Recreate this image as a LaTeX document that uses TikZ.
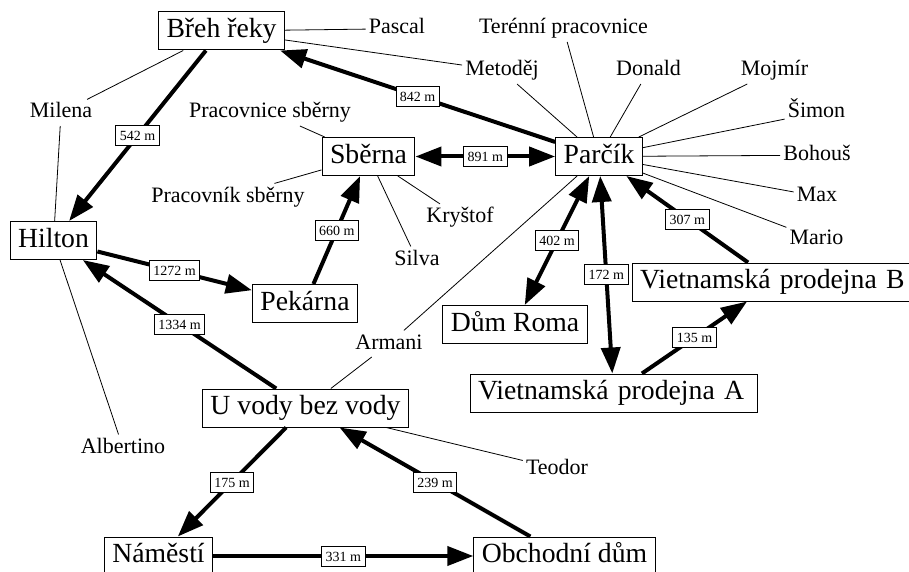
\documentclass[tikz,border=0pt]{standalone}
\usepackage{fontspec}
\setmainfont{Liberation Serif}
\usetikzlibrary{arrows.meta}

\begin{document}
\begin{tikzpicture}[x=1pt, y=-1pt, >={Triangle[length=26pt,width=19pt]},
		place/.style={draw, line width=1pt, inner xsep=8pt, inner ysep=6pt, text height=19.9pt, text depth=6.1pt, font=\fontsize{27.7}{30}\selectfont},
		person/.style={inner sep=3pt, text height=15.4pt, text depth=4.8pt, anchor=base, font=\fontsize{22}{26}\selectfont},
		road/.style={line width=4pt},
		knows/.style={line width=0.8pt},
		dist/.style={draw, fill=white, line width=0.8pt, inner xsep=4pt, inner ysep=5pt, text height=10pt, text depth=0pt, font=\fontsize{14}{16}\selectfont}]
		\useasboundingbox (0,0) rectangle (909,572);
		\clip (0,0) rectangle (909,572);

		\node[place] (P_breh) at (221.5, 31) {Břeh řeky};
		\node[place] (P_hilton) at (53.5, 240.5) {Hilton};
		\node[place] (P_sberna) at (368.5, 156.5) {Sběrna};
		\node[place] (P_parcik) at (599, 156.5) {Parčík};
		\node[place] (P_pekarna) at (305, 303.5) {Pekárna};
		\node[place] (P_roma) at (515, 324.5) {Dům Roma};
		\node[place, text width=271pt, align=left] (P_vietA) at (613.5, 393) {Vietnamská prodejna A};
		\node[place, text width=271pt, align=left] (P_vietB) at (775.5, 282) {Vietnamská prodejna B};
		\node[place] (P_uvody) at (305.5, 408) {U vody bez vody};
		\node[place] (P_namesti) at (158.5, 556) {Náměstí};
		\node[place] (P_obchod) at (564.5, 556) {Obchodní dům};

		\node[person] (O_pascal) at (397, 34) {Pascal};
		\node[person] (O_milena) at (61, 118) {Milena};
		\node[person] (O_pracovnice) at (270, 118) {Pracovnice sběrny};
		\node[person] (O_pracovnik) at (228, 202) {Pracovník sběrny};
		\node[person] (O_silva) at (417, 265) {Silva};
		\node[person] (O_krystof) at (460, 222.5) {Kryštof};
		\node[person] (O_terenni) at (563.5, 34) {Terénní pracovnice};
		\node[person] (O_metodej) at (502, 76) {Metoděj};
		\node[person] (O_donald) at (648.5, 76) {Donald};
		\node[person] (O_mojmir) at (774.5, 76) {Mojmír};
		\node[person] (O_simon) at (816.5, 118) {Šimon};
		\node[person] (O_bohous) at (817, 160.5) {Bohouš};
		\node[person] (O_max) at (817, 201.5) {Max};
		\node[person] (O_mario) at (816.5, 244) {Mario};
		\node[person] (O_armani) at (389, 349) {Armani};
		\node[person] (O_albertino) at (123, 453) {Albertino};
		\node[person] (O_teodor) at (557, 474) {Teodor};

		% who is where
		\draw[knows] (O_pascal) -- (P_breh);
		\draw[knows] (O_metodej) -- (P_breh);
		\draw[knows] (O_metodej) -- (P_parcik);
		\draw[knows] (O_milena) -- (P_breh);
		\draw[knows] (O_milena) -- (P_hilton);
		\draw[knows] (O_albertino) -- (P_hilton);
		\draw[knows] (O_pracovnice) -- (P_sberna);
		\draw[knows] (O_pracovnik) -- (P_sberna);
		\draw[knows] (O_silva) -- (P_sberna);
		\draw[knows] (O_krystof) -- (P_sberna);
		\draw[knows] (O_terenni) -- (P_parcik);
		\draw[knows] (O_donald) -- (P_parcik);
		\draw[knows] (O_mojmir) -- (P_parcik);
		\draw[knows] (O_simon) -- (P_parcik);
		\draw[knows] (O_bohous) -- (P_parcik);
		\draw[knows] (O_max) -- (P_parcik);
		\draw[knows] (O_mario) -- (P_parcik);
		\draw[knows] (O_armani) -- (P_parcik);
		\draw[knows] (O_armani) -- (P_uvody);
		\draw[knows] (O_teodor) -- (P_uvody);

		% roads
		\draw[road, ->] (P_parcik) -- node[dist] {842 m} (P_breh);
		\draw[road, ->] (P_breh) -- node[dist] {542 m} (P_hilton);
		\draw[road, ->] (P_hilton) -- node[dist] {1272 m} (P_pekarna);
		\draw[road, ->] (P_pekarna) -- node[dist] {660 m} (P_sberna);
		\draw[road, <->] (P_sberna) -- node[dist] {891 m} (P_parcik);
		\draw[road, ->] (P_uvody) -- node[dist] {1334 m} (P_hilton);
		\draw[road, ->] (P_uvody) -- node[dist] {175 m} (P_namesti);
		\draw[road, ->] (P_namesti) -- node[dist] {331 m} (P_obchod);
		\draw[road, ->] (P_obchod) -- node[dist] {239 m} (P_uvody);
		\draw[road, <->] (P_roma) -- node[dist] {402 m} (P_parcik);
		\draw[road, <->] (P_vietA) -- node[dist] {172 m} (P_parcik);
		\draw[road, ->] (P_vietB) -- node[dist] {307 m} (P_parcik);
		\draw[road, ->] (P_vietA) -- node[dist] {135 m} (P_vietB);
	\end{tikzpicture}
\end{document}
